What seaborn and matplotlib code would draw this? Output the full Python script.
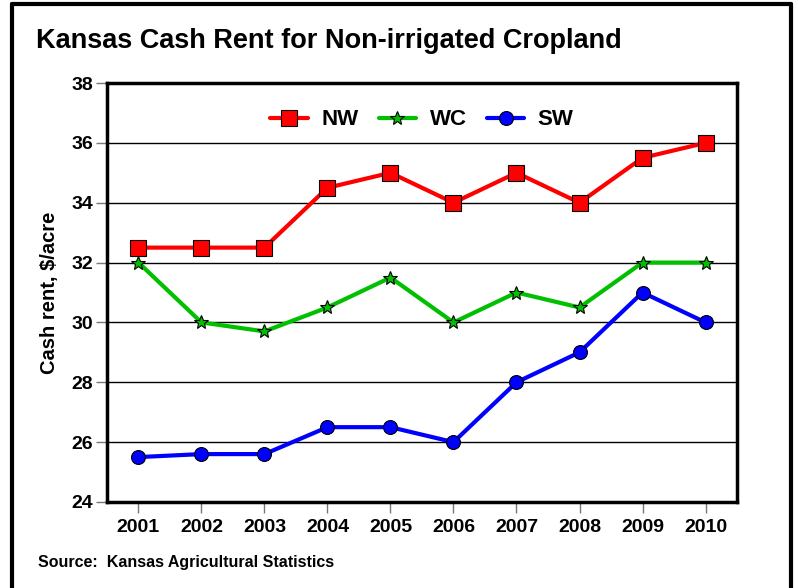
import numpy as np
import pandas as pd
import matplotlib
matplotlib.use("Agg")
import matplotlib.pyplot as plt
import seaborn as sns
from matplotlib.lines import Line2D

# data
years = [2001, 2002, 2003, 2004, 2005, 2006, 2007, 2008, 2009, 2010]
nw_rent = [32.5, 32.5, 32.5, 34.5, 35.0, 34.0, 35.0, 34.0, 35.5, 36.0]
wc_rent = [32.0, 30.0, 29.7, 30.5, 31.5, 30.0, 31.0, 30.5, 32.0, 32.0]
sw_rent = [25.5, 25.6, 25.6, 26.5, 26.5, 26.0, 28.0, 29.0, 31.0, 30.0]
y_ticks = [24, 26, 28, 30, 32, 34, 36, 38]

sns.set_theme(style="white")
plt.rcParams['font.family'] = ['Liberation Sans', 'DejaVu Sans']
plt.rcParams['text.color'] = 'black'
plt.rcParams['axes.labelcolor'] = 'black'
plt.rcParams['xtick.color'] = 'black'
plt.rcParams['ytick.color'] = 'black'

df = pd.DataFrame({'year': years, 'NW': nw_rent, 'WC': wc_rent, 'SW': sw_rent})
long_df = df.melt(id_vars='year', var_name='region', value_name='rent')

fig = plt.figure(figsize=(7.98, 5.88), dpi=100)
ax = fig.add_axes([0.134, 0.1463, 0.7896, 0.7125])

palette = {'NW': '#ff0000', 'WC': '#00c000', 'SW': '#0000ff'}
markers = {'NW': 's', 'WC': '*', 'SW': 'o'}
msizes = {'NW': 11, 'WC': 10, 'SW': 10}

for region in ['NW', 'WC', 'SW']:
    sub = long_df[long_df['region'] == region]
    sns.lineplot(data=sub, x='year', y='rent', ax=ax, color=palette[region],
                 linewidth=3, marker=markers[region], markersize=msizes[region],
                 markeredgecolor='black', markeredgewidth=0.8, label=region, zorder=3)

# gridlines
for yv in y_ticks[1:-1]:
    ax.axhline(yv, color='black', linewidth=1, zorder=1)

ax.set_xlim(2000.5, 2010.5)
ax.set_ylim(24, 38)
ax.set_yticks(y_ticks)
ax.set_xticks(years)
ax.set_xticklabels([str(y) for y in years], fontsize=14, fontweight='bold')
ax.set_yticklabels([str(y) for y in y_ticks], fontsize=14, fontweight='bold')
ax.tick_params(axis='both', direction='out', length=8, width=1, color='#777777',
               bottom=True, left=True)
ax.tick_params(axis='y', pad=2)
ax.tick_params(axis='x', pad=4)
ax.set_xlabel('')
ax.set_ylabel('Cash rent, $/acre', fontsize=14.5, fontweight='bold', labelpad=9)

for spine in ax.spines.values():
    spine.set_color('black')
    spine.set_linewidth(2.5)

handles = [Line2D([], [], color=palette[r], lw=3, marker=markers[r], markersize=msizes[r],
                  markeredgecolor='black', markeredgewidth=0.8) for r in ['NW', 'WC', 'SW']]
ax.legend(handles, ['NW', 'WC', 'SW'], loc='upper center', bbox_to_anchor=(0.5, 0.985),
          ncol=3, frameon=False, prop={'size': 16, 'weight': 'bold'},
          handlelength=1.7, columnspacing=0.9, handletextpad=0.6)

fig.text(36 / 798, 1 - 41 / 588, 'Kansas Cash Rent for Non-irrigated Cropland',
         fontsize=19.5, fontweight='bold', ha='left', va='center')
fig.text(38 / 798, 1 - 562 / 588, 'Source:  Kansas Agricultural Statistics',
         fontsize=11.5, fontweight='bold', ha='left', va='center')

# outer frame (left, top, right)
frame_kw = dict(color='black', linewidth=3, transform=fig.transFigure)
fig.add_artist(Line2D([11.5 / 798, 11.5 / 798], [0, 1 - 4 / 588], **frame_kw))
fig.add_artist(Line2D([11.5 / 798, 791 / 798], [1 - 4 / 588, 1 - 4 / 588], **frame_kw))
fig.add_artist(Line2D([791 / 798, 791 / 798], [0, 1 - 4 / 588], **frame_kw))

plt.savefig('out.png', dpi=100)
